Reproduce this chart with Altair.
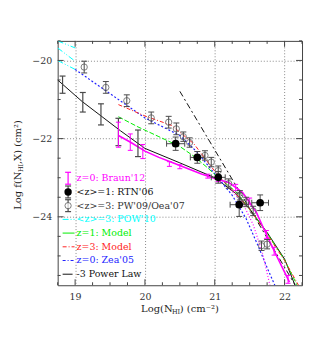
import altair as alt
import pandas as pd

# ---------------- data ----------------
X_DOMAIN = [18.75, 22.25]
Y_DOMAIN = [-25.75, -19.5]

# POW'10 (cyan), three short segments at the left edge
cyan_a_x = [18.75, 19.0]
cyan_a_y = [-19.50, -19.68]
cyan_b_x = [18.75, 19.0]
cyan_b_y = [-19.68, -20.02]
cyan_c_x = [18.75, 19.0]
cyan_c_y = [-20.00, -20.23]

# Zea'05 (blue dotted)
blue_x = [19.0, 19.5, 20.0, 20.5, 20.75, 21.0, 21.25, 21.45, 21.62, 21.75, 21.86]
blue_y = [-20.23, -20.85, -21.47, -21.92, -22.35, -22.9, -23.45, -24.05, -24.74, -25.3, -25.75]

# z=3 model (red)
red_x = [19.62, 20.0, 20.38, 20.7, 20.9, 21.05, 21.3, 21.5, 21.75, 22.0, 22.2]
red_y = [-21.13, -21.42, -21.66, -22.13, -22.6, -22.95, -23.4, -23.8, -24.45, -25.12, -25.75]

# z=1 model (green)
green_x = [19.62, 19.9, 20.2, 20.5, 20.7, 20.9, 21.05, 21.3, 21.5, 21.75, 22.0, 22.18]
green_y = [-21.44, -21.7, -21.95, -22.2, -22.45, -22.75, -23.0, -23.35, -23.8, -24.42, -25.1, -25.75]

# black solid line
black_x = [18.75, 19.1, 19.65, 20.0, 20.5, 21.0, 21.3, 21.5, 21.75, 22.0, 22.15]
black_y = [-20.5, -21.05, -21.8, -22.25, -22.62, -23.0, -23.4, -23.8, -24.4, -25.08, -25.75]

# -3 power law
pl_x = [20.5, 22.15]
pl_y = [-20.79, -25.74]

# dark grey error bars (no symbol)
grey_x = [18.82, 19.11, 19.37, 19.62, 19.9]
grey_y = [-20.62, -21.07, -21.38, -21.83, -22.12]
grey_e = [0.22, 0.25, 0.27, 0.35, 0.34]

# Braun'12 (magenta) line
mag_x = [19.62, 19.8, 20.0, 20.2, 20.4, 20.6, 20.8, 21.0, 21.2, 21.4, 21.6, 21.7, 21.8, 21.9, 22.07]
mag_y = [-21.92, -22.1, -22.32, -22.48, -22.62, -22.76, -22.9, -23.02, -23.12, -23.38, -23.9, -24.3, -24.68, -25.05, -25.67]
# Braun'12 error bars
magb_x = [19.62, 19.79, 19.97, 20.35, 20.5, 20.9, 21.05, 21.3, 21.5, 21.74, 21.85, 22.05]
magb_y = [-21.9, -22.09, -22.33, -22.65, -22.72, -22.96, -23.04, -23.25, -23.6, -24.45, -24.88, -25.6]
magb_e = [0.32, 0.21, 0.18, 0.06, 0.05, 0.05, 0.06, 0.08, 0.08, 0.1, 0.1, 0.1]
# magenta dotted curve
magd_x = [21.2, 21.4, 21.55, 21.68, 21.79]
magd_y = [-23.25, -23.65, -24.2, -24.9, -25.75]

# PW'09/Oea'07 open circles
pw_x = [19.13, 19.44, 19.74, 20.09, 20.34, 20.45, 20.55, 20.64, 20.86, 20.95, 21.05, 21.2, 21.36, 21.45, 21.55, 21.67, 21.75]
pw_y = [-20.17, -20.69, -21.03, -21.47, -21.58, -21.75, -21.95, -22.1, -22.43, -22.6, -22.82, -23.15, -23.45, -23.62, -23.85, -24.74, -24.70]
pw_e = [0.15, 0.15, 0.15, 0.15, 0.15, 0.15, 0.12, 0.12, 0.12, 0.12, 0.12, 0.12, 0.12, 0.12, 0.12, 0.12, 0.12]

# RTN'06 filled circles
rtn_x = [20.44, 20.75, 21.05, 21.35, 21.65]
rtn_y = [-22.13, -22.48, -22.99, -23.69, -23.64]
rtn_xe = [0.13, 0.1, 0.1, 0.13, 0.12]
rtn_ye = [0.17, 0.15, 0.15, 0.3, 0.2]

x_major = [19, 20, 21, 22]
y_major = [-20, -22, -24]
x_minor = [18.75, 19.25, 19.5, 19.75, 20.25, 20.5, 20.75, 21.25, 21.5, 21.75, 22.25]
y_minor = [-19.5, -20.5, -21, -21.5, -22.5, -23, -23.5, -24.5, -25, -25.5]

legend_labels = ["z=0: Braun'12", "<z>=1: RTN'06", "<z>=3: PW'09/Oea'07", "<z>=3: POW'10",
                 "z=1: Model", "z=3: Model", "z=0: Zea'05", "-3 Power Law"]

# ---------------- styling ----------------
W, H = 246, 246
FONT = "DejaVu Serif"
MAG = "#ff00ff"
CYAN = "#00ffff"
GREEN = "#00ee00"
RED = "#ff2222"
BLUE = "#2222ff"
GREY = "#4a4a4a"
legend_colors = [MAG, "#111111", "#333333", CYAN, GREEN, RED, BLUE, "#111111"]

XS = alt.Scale(domain=X_DOMAIN, nice=False, zero=False)
YS = alt.Scale(domain=Y_DOMAIN, nice=False, zero=False)
AX = alt.Axis(values=x_major, title="", ticks=False, domain=False, grid=True,
              gridDash=[1, 2], gridColor="#888888", gridWidth=1,
              labelFont=FONT, labelFontSize=9.5, labelColor="#333333", labelPadding=6)
AY = alt.Axis(values=y_major, title="", ticks=False, domain=False, grid=True,
              gridDash=[1, 2], gridColor="#888888", gridWidth=1,
              labelFont=FONT, labelFontSize=9.5, labelColor="#333333", labelPadding=6)


def ex(f):
    return alt.X(f"{f}:Q", scale=XS, axis=AX)


def ey(f):
    return alt.Y(f"{f}:Q", scale=YS, axis=AY)


def line(xs, ys, color, width=1, dash=None):
    df = pd.DataFrame({"x": xs, "y": ys, "o": list(range(len(xs)))})
    kw = dict(color=color, strokeWidth=width, clip=True)
    if dash:
        kw["strokeDash"] = dash
    return alt.Chart(df).mark_line(**kw).encode(x=ex("x"), y=ey("y"), order="o:Q")


def vbars(xs, ys, es, color, cap=3, width=1):
    df = pd.DataFrame({"x": xs, "y": ys, "e": es})
    df["lo"] = df["y"] - df["e"]
    df["hi"] = df["y"] + df["e"]
    bar = alt.Chart(df).mark_rule(color=color, strokeWidth=width).encode(
        x=ex("x"), y=ey("lo"), y2=alt.Y2("hi:Q"))
    c1 = alt.Chart(df).mark_rule(color=color, strokeWidth=width, xOffset=-cap, x2Offset=cap).encode(
        x=ex("x"), x2=alt.X2("x:Q"), y=ey("hi"))
    c2 = alt.Chart(df).mark_rule(color=color, strokeWidth=width, xOffset=-cap, x2Offset=cap).encode(
        x=ex("x"), x2=alt.X2("x:Q"), y=ey("lo"))
    return [bar, c1, c2]


def hbars(xs, ys, es, color, cap=3):
    df = pd.DataFrame({"x": xs, "y": ys, "e": es})
    df["lo"] = df["x"] - df["e"]
    df["hi"] = df["x"] + df["e"]
    bar = alt.Chart(df).mark_rule(color=color).encode(x=ex("lo"), x2=alt.X2("hi:Q"), y=ey("y"))
    c1 = alt.Chart(df).mark_rule(color=color, yOffset=-cap, y2Offset=cap).encode(
        x=ex("lo"), y=ey("y"), y2=alt.Y2("y:Q"))
    c2 = alt.Chart(df).mark_rule(color=color, yOffset=-cap, y2Offset=cap).encode(
        x=ex("hi"), y=ey("y"), y2=alt.Y2("y:Q"))
    return [bar, c1, c2]


layers = []

# data curves
layers.append(line(cyan_a_x, cyan_a_y, CYAN, 1, [6, 2, 1, 2, 1, 2]))
layers.append(line(cyan_b_x, cyan_b_y, CYAN, 1, [6, 2, 1, 2, 1, 2]))
layers.append(line(cyan_c_x, cyan_c_y, CYAN, 1, [6, 2, 1, 2, 1, 2]))
layers.append(line(black_x, black_y, "#111111", 1))
layers.append(line(blue_x, blue_y, BLUE, 1.2, [2, 2]))
layers.append(line(green_x, green_y, GREEN, 1, [5, 2]))
layers.append(line(red_x, red_y, RED, 1, [4, 2, 1, 2]))
layers.append(line(pl_x, pl_y, "#111111", 1, [6, 3, 2, 3]))
layers.append(line(magd_x, magd_y, MAG, 1.2, [1, 2]))
layers.append(line(mag_x, mag_y, MAG, 1.6))

layers += vbars(grey_x, grey_y, grey_e, GREY, 3, 1.2)
layers += vbars(magb_x, magb_y, magb_e, MAG, 2.5, 1)
layers += vbars(pw_x, pw_y, pw_e, GREY, 3, 1)
pw_df = pd.DataFrame({"x": pw_x, "y": pw_y})
layers.append(alt.Chart(pw_df).mark_point(shape="circle", filled=False, size=40, color=GREY,
                                          strokeWidth=1).encode(x=ex("x"), y=ey("y")))
layers += vbars(rtn_x, rtn_y, rtn_ye, GREY, 3, 1)
layers += hbars(rtn_x, rtn_y, rtn_xe, GREY, 3)
rtn_df = pd.DataFrame({"x": rtn_x, "y": rtn_y})
layers.append(alt.Chart(rtn_df).mark_circle(size=60, color="black", opacity=1).encode(
    x=ex("x"), y=ey("y")))

# frame ticks (inward)
def xticks(vals, ln):
    df = pd.DataFrame({"x": vals})
    b = alt.Chart(df).mark_rule(color="#444444").encode(x=ex("x"), y=alt.value(H), y2=alt.value(H - ln))
    t = alt.Chart(df).mark_rule(color="#444444").encode(x=ex("x"), y=alt.value(0), y2=alt.value(ln))
    return [b, t]


def yticks(vals, ln):
    df = pd.DataFrame({"y": vals})
    l = alt.Chart(df).mark_rule(color="#444444").encode(y=ey("y"), x=alt.value(0), x2=alt.value(ln))
    r = alt.Chart(df).mark_rule(color="#444444").encode(y=ey("y"), x=alt.value(W), x2=alt.value(W - ln))
    return [l, r]


layers += xticks(x_major, 6) + xticks(x_minor, 3) + yticks(y_major, 6) + yticks(y_minor, 3)

# legend
rows = [138.3 + 13.8 * i for i in range(len(legend_labels))]
sx = 10.5
one = pd.DataFrame({"a": [0]})
for i, (lab, col) in enumerate(zip(legend_labels, legend_colors)):
    layers.append(alt.Chart(pd.DataFrame({"t": [lab]})).mark_text(
        font=FONT, fontSize=9.5, align="left", baseline="middle", color=col).encode(
        text="t:N", x=alt.value(19), y=alt.value(rows[i])))


def lrule(x1, x2, y1, y2, color, width=1, dash=None):
    kw = dict(color=color, strokeWidth=width)
    if dash:
        kw["strokeDash"] = dash
    return alt.Chart(one).mark_rule(**kw).encode(
        x=alt.value(x1), x2=alt.value(x2), y=alt.value(y1), y2=alt.value(y2))


def lerr(y, color):
    return [lrule(sx, sx, y - 6, y + 6, color, 1.2),
            lrule(sx - 3, sx + 3, y - 6, y - 6, color, 1.2),
            lrule(sx - 3, sx + 3, y + 6, y + 6, color, 1.2)]


layers += lerr(rows[0], MAG)
layers += lerr(rows[1], GREY)
layers.append(alt.Chart(one).mark_circle(size=55, color="black", opacity=1).encode(
    x=alt.value(sx), y=alt.value(rows[1])))
layers += lerr(rows[2], GREY)
layers.append(alt.Chart(one).mark_point(shape="circle", filled=False, size=40, color=GREY, fill="white",
                                        strokeWidth=1).encode(x=alt.value(sx), y=alt.value(rows[2])))
layers.append(lrule(5, 17, rows[3], rows[3], CYAN, 1, [6, 2, 1, 2]))
layers.append(lrule(5, 17, rows[4], rows[4], GREEN, 1))
layers.append(lrule(5, 17, rows[5], rows[5], RED, 1, [4, 2, 1, 2]))
layers.append(lrule(5, 17, rows[6], rows[6], BLUE, 1.2, [3, 2, 1, 2]))
layers.append(lrule(5, 15, rows[7], rows[7], "#111111", 1))

# axis titles (with subscripts)
def txt(s, x, y, size=10, angle=0):
    return alt.Chart(pd.DataFrame({"t": [s]})).mark_text(
        font=FONT, fontSize=size, align="left", baseline="middle", color="#222222", angle=angle).encode(
        text="t:N", x=alt.value(x), y=alt.value(y))


layers += [txt("Log(N", 84, 270), txt("HI", 115, 273, 6.5), txt(") (cm\u207b\u00b2)", 123, 270)]
layers += [txt("Log f(N", -40, 170, 10, 270), txt("HI", -37, 132, 6.5, 270),
           txt(",X) (cm\u00b2)", -40, 124, 10, 270)]

chart = alt.layer(*layers).properties(
    width=W, height=H,
    padding={"left": 50, "top": 32, "right": 4, "bottom": 50},
    autosize=alt.AutoSizeParams(type="none"),
).configure_view(stroke="#444444", strokeWidth=1)

chart.save("out.html", embed_options={"renderer": "svg", "actions": False})
